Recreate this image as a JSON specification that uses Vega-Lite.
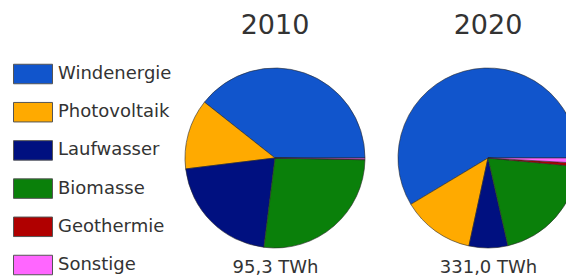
{
  "$schema": "https://vega.github.io/schema/vega-lite/v6.json",
  "background": "white",
  "padding": {"left": 13, "top": 12, "right": 0, "bottom": 0},
  "data": {
    "values": [
      {"Jahr": "2010", "Summe": "95,3 TWh", "Nr": 1, "Quelle": "Windenergie", "TWh": 37.5},
      {"Jahr": "2010", "Summe": "95,3 TWh", "Nr": 2, "Quelle": "Photovoltaik", "TWh": 12.0},
      {"Jahr": "2010", "Summe": "95,3 TWh", "Nr": 3, "Quelle": "Laufwasser", "TWh": 20.1},
      {"Jahr": "2010", "Summe": "95,3 TWh", "Nr": 4, "Quelle": "Biomasse", "TWh": 25.4},
      {"Jahr": "2010", "Summe": "95,3 TWh", "Nr": 5, "Quelle": "Geothermie", "TWh": 0.1},
      {"Jahr": "2010", "Summe": "95,3 TWh", "Nr": 6, "Quelle": "Sonstige", "TWh": 0.2},
      {"Jahr": "2020", "Summe": "331,0 TWh", "Nr": 1, "Quelle": "Windenergie", "TWh": 194.0},
      {"Jahr": "2020", "Summe": "331,0 TWh", "Nr": 2, "Quelle": "Photovoltaik", "TWh": 43.0},
      {"Jahr": "2020", "Summe": "331,0 TWh", "Nr": 3, "Quelle": "Laufwasser", "TWh": 23.0},
      {"Jahr": "2020", "Summe": "331,0 TWh", "Nr": 4, "Quelle": "Biomasse", "TWh": 66.0},
      {"Jahr": "2020", "Summe": "331,0 TWh", "Nr": 5, "Quelle": "Geothermie", "TWh": 2.0},
      {"Jahr": "2020", "Summe": "331,0 TWh", "Nr": 6, "Quelle": "Sonstige", "TWh": 3.0}
    ]
  },
  "facet": {
    "column": {
      "field": "Jahr",
      "type": "nominal",
      "header": {
        "title": null,
        "labelFontSize": 27,
        "labelFont": "DejaVu Sans",
        "labelColor": "#333333",
        "labelPadding": 26
      }
    }
  },
  "spacing": 29,
  "resolve": {"scale": {"x": "independent"}},
  "spec": {
    "width": 180,
    "height": 180,
    "mark": {"type": "arc", "outerRadius": 90, "stroke": "#2a2a2a", "strokeWidth": 0.6},
    "encoding": {
      "x": {
        "field": "Summe",
        "type": "nominal",
        "axis": {
          "title": null,
          "domain": false,
          "ticks": false,
          "tickSize": 0,
          "labelAngle": 0,
          "labelFontSize": 18,
          "labelFont": "DejaVu Sans",
          "labelColor": "#333333",
          "labelPadding": 10
        }
      },
      "theta": {
        "field": "TWh",
        "type": "quantitative",
        "stack": "normalize",
        "scale": {"range": [1.5708, -4.7124]}
      },
      "color": {
        "field": "Quelle",
        "type": "nominal",
        "sort": ["Windenergie", "Photovoltaik", "Laufwasser", "Biomasse", "Geothermie", "Sonstige"],
        "scale": {
          "domain": ["Windenergie", "Photovoltaik", "Laufwasser", "Biomasse", "Geothermie", "Sonstige"],
          "range": ["#1155cc", "#ffaa00", "#001080", "#0a800a", "#b00000", "#ff66ff"]
        },
        "legend": {
          "title": null,
          "orient": "none",
          "legendX": -172,
          "legendY": -14,
          "symbolType": "M-1,-0.5H1V0.5H-1Z",
          "symbolSize": 1521,
          "symbolStrokeColor": "#555555",
          "symbolStrokeWidth": 1,
          "symbolOpacity": 1,
          "labelFontSize": 18,
          "labelFont": "DejaVu Sans",
          "labelColor": "#333333",
          "labelOffset": 5,
          "rowPadding": 6.2,
          "labelLimit": 300
        }
      },
      "order": {"field": "Nr", "type": "quantitative"}
    }
  },
  "config": {"view": {"stroke": null}}
}
